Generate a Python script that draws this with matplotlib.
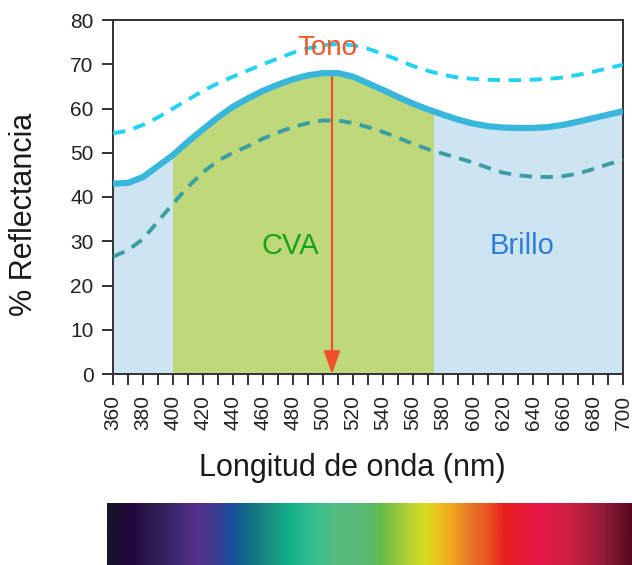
import numpy as np
import matplotlib
matplotlib.use("Agg")
import matplotlib.pyplot as plt
from matplotlib.colors import LinearSegmentedColormap
from matplotlib.patches import Rectangle

plt.rcParams['font.family'] = ['Liberation Sans', 'DejaVu Sans']

# Wavelength grid (nm)
wavelength = np.arange(360, 701, 10)

# Reflectance curves (%)
reflect_mid = [43.0, 43.2, 44.5, 47.0, 49.5, 52.5, 55.3, 58.0, 60.4, 62.3,
               64.0, 65.4, 66.6, 67.5, 68.0, 68.0, 67.2, 65.7, 64.2, 62.6,
               61.1, 59.8, 58.6, 57.5, 56.6, 56.0, 55.7, 55.6, 55.6, 55.8,
               56.3, 57.0, 57.8, 58.6, 59.4]
reflect_high = [54.4, 55.0, 56.3, 58.0, 60.0, 62.0, 64.0, 65.7, 67.2, 68.6,
                70.0, 71.3, 72.6, 73.6, 74.3, 74.6, 74.3, 73.5, 72.3, 71.0,
                69.6, 68.5, 67.6, 67.0, 66.7, 66.5, 66.4, 66.4, 66.5, 66.7,
                67.0, 67.6, 68.3, 69.1, 69.9]
reflect_low = [26.5, 28.0, 30.5, 34.5, 38.5, 42.3, 45.6, 48.2, 50.0, 51.5,
               53.2, 54.6, 55.8, 56.7, 57.3, 57.3, 56.7, 55.8, 54.7, 53.4,
               52.0, 50.8, 49.8, 48.8, 47.8, 46.6, 45.5, 44.9, 44.6, 44.5,
               44.7, 45.3, 46.3, 47.4, 48.4]

cva_range = (400, 573)
dominant_wl = 506
dominant_top = 67.5

x_ticks = np.arange(360, 701, 20)
y_ticks = np.arange(0, 81, 10)

# Visible spectrum strip colours
spectrum_colors = ['#18122a', '#200a3a', '#30205c', '#452a78', '#552f88',
                   '#3c3c90', '#1850a0', '#107080', '#189080', '#12b088',
                   '#38c090', '#58bc80', '#5cb870', '#60bc48', '#a8cc38',
                   '#d8dc20', '#f0c020', '#f0a020', '#e87a28', '#e85020',
                   '#e82020', '#e81848', '#c82040', '#901c38', '#5c0820']
spectrum_pos = [107, 130, 160, 180, 195, 215, 232, 250, 270, 290, 315, 340,
                370, 380, 405, 425, 440, 455, 470, 490, 505, 540, 575, 605, 632]

fig = plt.figure(figsize=(6.32, 5.65), dpi=100)
ax = fig.add_axes([113 / 632, 1 - 374 / 565, 510 / 632, 354 / 565])

blue_fill = '#cde4f2'
green_fill = '#bfd87c'

ax.fill_between(wavelength, 0, reflect_mid, color=blue_fill, lw=0, zorder=1)
green = ax.fill_between(wavelength, 0, reflect_mid, color=green_fill, lw=0, zorder=2)
clip = Rectangle((cva_range[0], 0), cva_range[1] - cva_range[0], 100,
                 transform=ax.transData)
green.set_clip_path(clip)

ax.annotate('', xy=(dominant_wl, 0), xytext=(dominant_wl, dominant_top),
            arrowprops=dict(arrowstyle='-|>,head_length=0.7,head_width=0.25',
                            color='#f2502a', lw=1.6, mutation_scale=20,
                            shrinkA=0, shrinkB=0), zorder=3)

ax.plot(wavelength, reflect_low, color='#3a9ea2', lw=2.8,
        dashes=(3.2, 2.2), zorder=4)
ax.plot(wavelength, reflect_mid, color='#39b6dc', lw=4.5, zorder=5,
        solid_capstyle='butt')
ax.plot(wavelength, reflect_high, color='#22d2f2', lw=2.8,
        dashes=(3.2, 2.2), zorder=4)

ax.text(503, 73.6, 'Tono', color='#f2552a', fontsize=20, ha='center',
        va='center', zorder=6)
ax.text(478, 29.0, 'CVA', color='#16a416', fontsize=21, ha='center',
        va='center', zorder=6)
ax.text(633, 29.0, 'Brillo', color='#2c7ed8', fontsize=21, ha='center',
        va='center', zorder=6)

ax.set_xlim(360, 700)
ax.set_ylim(0, 80)
ax.set_xticks(x_ticks)
ax.set_xticks(np.arange(360, 701, 10), minor=True)
ax.set_yticks(y_ticks)
ax.set_xticklabels([str(v) for v in x_ticks], rotation=90, fontsize=15,
                   color='#222222')
ax.set_yticklabels([str(v) for v in y_ticks], fontsize=15, color='#222222')
ax.tick_params(axis='both', which='both', direction='out', width=1.3,
               color='#222222')
ax.tick_params(axis='y', length=8, pad=6)
ax.tick_params(axis='x', which='both', length=8, pad=7)

for sp in ax.spines.values():
    sp.set_color('#333333')
    sp.set_linewidth(1.4)

ax.set_xlabel('Longitud de onda (nm)', fontsize=22, color='#1a1a1a')
ax.xaxis.set_label_coords(0.47, -0.222)
ax.set_ylabel('% Reflectancia', fontsize=22, color='#1a1a1a')
ax.yaxis.set_label_coords(-0.145, 0.45)

# Visible spectrum strip
cmap_pos = [(p - spectrum_pos[0]) / (spectrum_pos[-1] - spectrum_pos[0])
            for p in spectrum_pos]
spec_cmap = LinearSegmentedColormap.from_list(
    'spectrum', list(zip(cmap_pos, spectrum_colors)))
sax = fig.add_axes([107 / 632, 0, 525 / 632, 62 / 565])
sax.imshow(np.linspace(0, 1, 600)[None, :], cmap=spec_cmap, aspect='auto',
           extent=(0, 1, 0, 1))
sax.set_axis_off()

fig.savefig('out.png', dpi=100)
